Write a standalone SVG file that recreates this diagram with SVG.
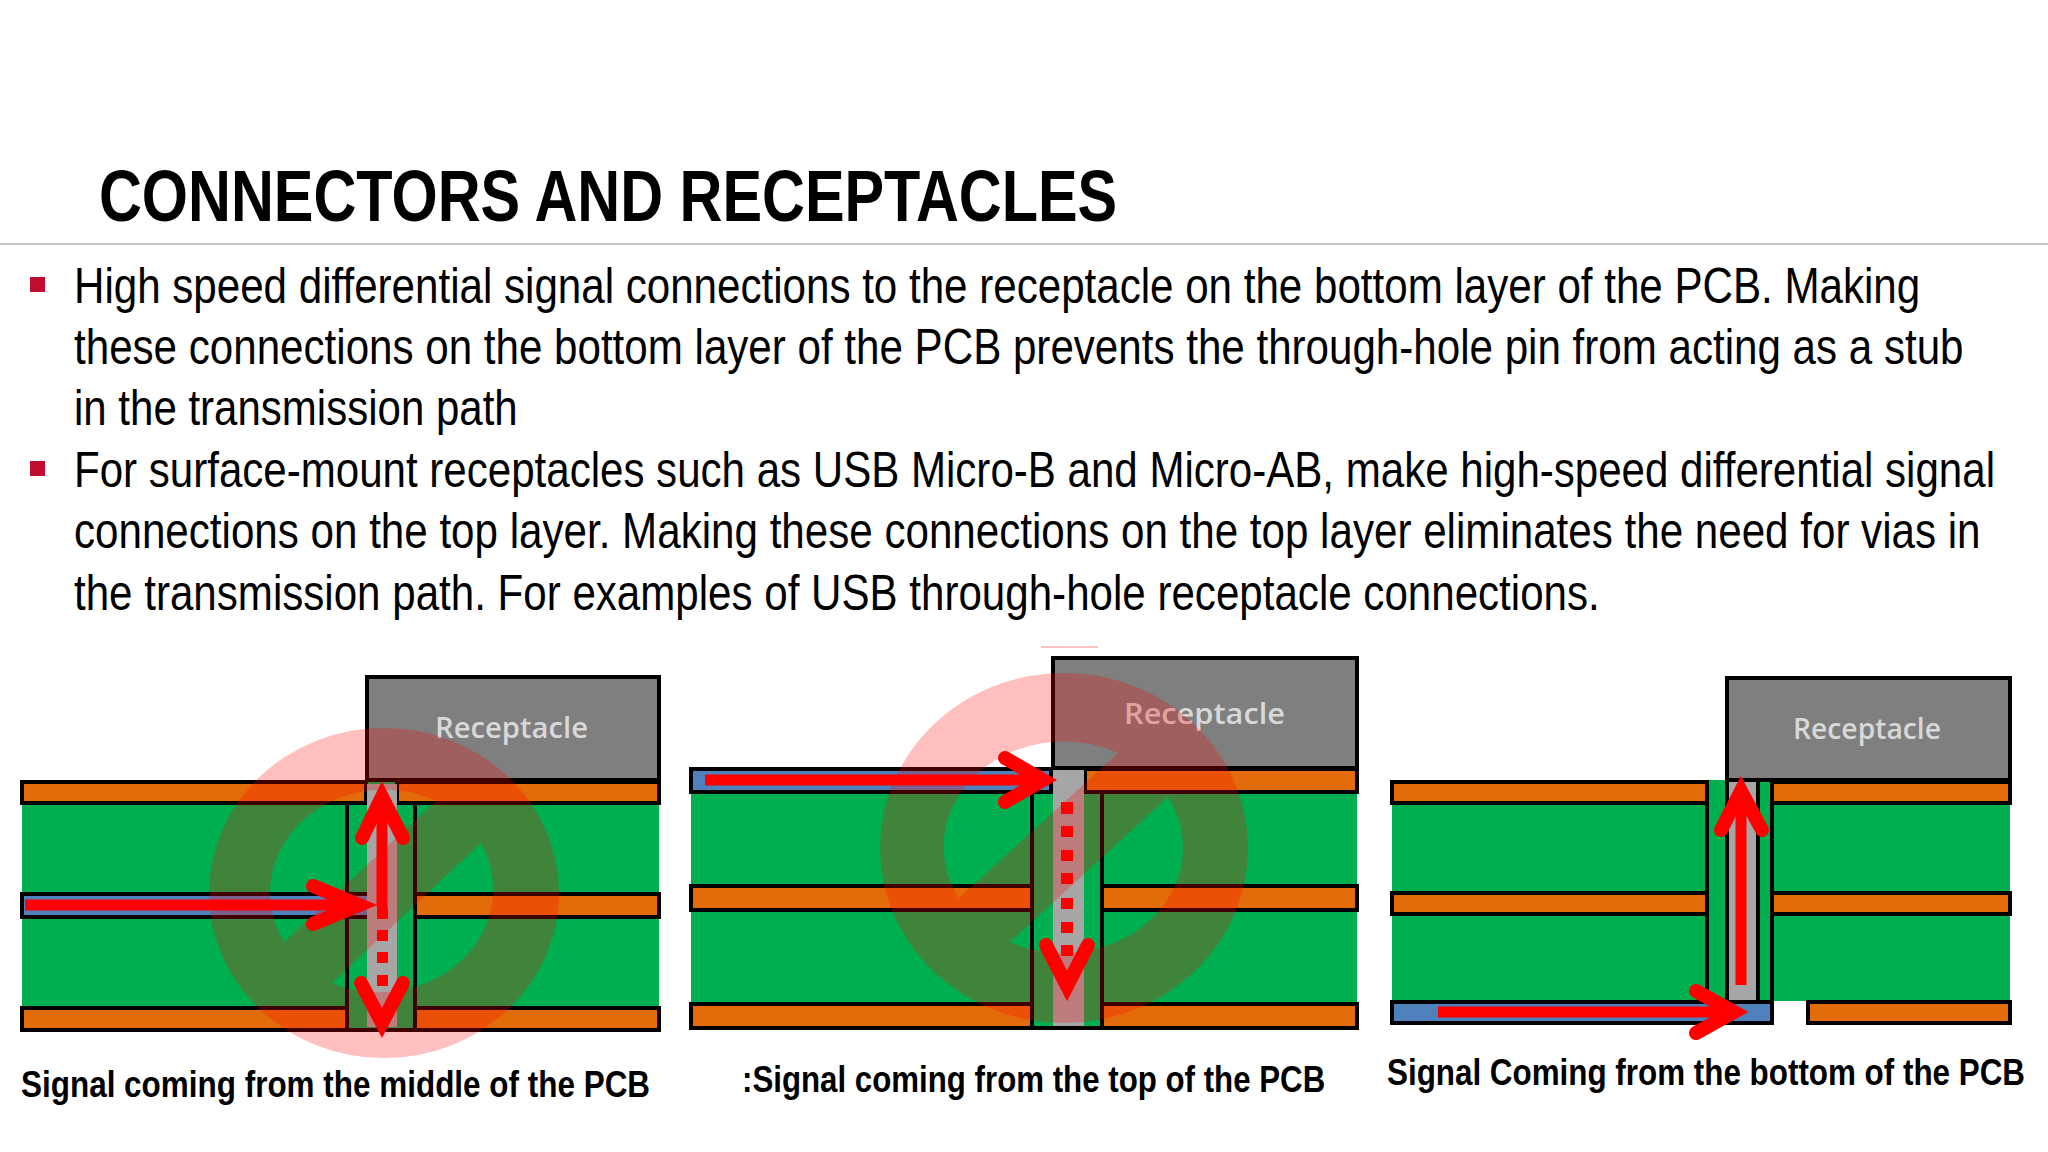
<svg xmlns="http://www.w3.org/2000/svg" width="2048" height="1152" viewBox="0 0 2048 1152">
<style>
.t{font-family:"Liberation Sans",Arial,sans-serif;fill:#000}
.title{font-size:72px;font-weight:700}
.body{font-size:50px}
.cap{font-size:37px;font-weight:700}
.cap3{font-size:33px;font-weight:700}
.rec{font-family:"Open Sans","Noto Sans",sans-serif;font-size:29px;font-weight:600;fill:#d8d8d8}
.bul{fill:#c00d2d}
.g{fill:#00b050}
.o{fill:#e36c0a;stroke:#000;stroke-width:4}
.b{fill:#4f81bd;stroke:#000;stroke-width:4}
.bx{fill:#7f7f7f;stroke:#000;stroke-width:4}
.pin{fill:#a6a6a6}
.ln{stroke:#000;stroke-width:4;fill:none}
.no{fill:#f00;fill-opacity:.25;fill-rule:evenodd}
.a{fill:none;stroke:#f00;stroke-width:11}
.h{fill:none;stroke:#f00;stroke-width:14;stroke-linecap:round;stroke-linejoin:miter;stroke-miterlimit:6}
.d{fill:#f00}
</style>
<rect width="2048" height="1152" fill="#fff"/>
<g id="header">
<text class="t title" transform="translate(99 221) scale(.88 1)" textLength="1157" lengthAdjust="spacingAndGlyphs">CONNECTORS AND RECEPTACLES</text>
<rect x="0" y="243" width="2048" height="2" fill="#c8c8c8"/>
</g>
<g id="bullets">
<rect class="bul" x="30" y="277" width="15" height="15"/>
<rect class="bul" x="30" y="461" width="15" height="15"/>
<text class="t body" transform="translate(74 303) scale(.85 1)" textLength="2172" lengthAdjust="spacingAndGlyphs">High speed differential signal connections to the receptacle on the bottom layer of the PCB. Making</text>
<text class="t body" transform="translate(74 364) scale(.85 1)" textLength="2223" lengthAdjust="spacingAndGlyphs">these connections on the bottom layer of the PCB prevents the through-hole pin from acting as a stub</text>
<text class="t body" transform="translate(74 425) scale(.85 1)" textLength="522" lengthAdjust="spacingAndGlyphs">in the transmission path</text>
<text class="t body" transform="translate(74 487) scale(.85 1)" textLength="2260" lengthAdjust="spacingAndGlyphs">For surface-mount receptacles such as USB Micro-B and Micro-AB, make high-speed differential signal</text>
<text class="t body" transform="translate(74 548) scale(.85 1)" textLength="2243" lengthAdjust="spacingAndGlyphs">connections on the top layer. Making these connections on the top layer eliminates the need for vias in</text>
<text class="t body" transform="translate(74 610) scale(.85 1)" textLength="1795" lengthAdjust="spacingAndGlyphs">the transmission path. For examples of USB through-hole receptacle connections.</text>
</g>
<g id="panel-middle">
<rect class="g" x="22" y="780" width="637" height="250"/>
<rect class="o" x="22" y="782" width="344" height="21"/>
<rect class="o" x="397" y="782" width="262" height="21"/>
<rect class="b" x="22" y="894" width="347" height="23"/>
<rect class="o" x="415" y="894" width="244" height="23"/>
<rect class="o" x="22" y="1008" width="325" height="22"/>
<rect class="o" x="415" y="1008" width="244" height="22"/>
<path class="ln" d="M347 803V1030M415 803V1030M347 1030H415"/>
<rect class="pin" x="367" y="784" width="30" height="243"/>
<rect class="bx" x="367" y="677" width="292" height="103"/>
<text class="rec" x="435" y="738" textLength="153" lengthAdjust="spacingAndGlyphs">Receptacle</text>
<path class="no" d="M209 893A175 165 0 1 1 559 893A175 165 0 1 1 209 893ZM284 942A114 103 0 0 1 436 801ZM481 843A114 103 0 0 1 332 983Z"/>
<text class="t cap" transform="translate(21 1097) scale(.9 1)" textLength="699" lengthAdjust="spacingAndGlyphs">Signal coming from the middle of the PCB</text>
</g>
<g id="panel-top">
<rect x="1041" y="646" width="57" height="2" fill="#ffc0c0"/>
<rect class="g" x="691" y="768" width="666" height="260"/>
<rect class="b" x="691" y="769" width="360" height="23"/>
<rect class="o" x="1085" y="769" width="272" height="23"/>
<rect class="o" x="691" y="886" width="341" height="24"/>
<rect class="o" x="1102" y="886" width="255" height="24"/>
<rect class="o" x="691" y="1004" width="341" height="24"/>
<rect class="o" x="1102" y="1004" width="255" height="24"/>
<path class="ln" d="M1032 792V1028M1102 792V1028M1032 1028H1102"/>
<rect class="pin" x="1053" y="769" width="31" height="257"/>
<rect class="bx" x="1053" y="658" width="304" height="110"/>
<text class="rec" x="1124" y="724" textLength="161" lengthAdjust="spacingAndGlyphs">Receptacle</text>
<path class="no" d="M880 848A184 175 0 1 1 1248 848A184 175 0 1 1 880 848ZM959 898A120 105 0 0 1 1118 753ZM1168 797A120 105 0 0 1 1010 942Z"/>
<text class="t cap" transform="translate(742 1092) scale(.9 1)" textLength="648" lengthAdjust="spacingAndGlyphs">:Signal coming from the top of the PCB</text>
</g>
<g id="panel-bottom">
<rect class="g" x="1392" y="780" width="618" height="221"/>
<rect class="o" x="1392" y="782" width="315" height="21"/>
<rect class="o" x="1772" y="782" width="238" height="21"/>
<rect class="o" x="1392" y="893" width="315" height="21"/>
<rect class="o" x="1772" y="893" width="238" height="21"/>
<rect class="b" x="1392" y="1002" width="380" height="21"/>
<rect class="o" x="1808" y="1002" width="202" height="21"/>
<path class="ln" d="M1707 780V1002M1772 780V1002M1727 780V1002M1758 780V1002"/>
<rect class="pin" x="1729" y="782" width="27" height="218"/>
<rect class="bx" x="1727" y="678" width="283" height="102"/>
<text class="rec" x="1793" y="739" textLength="148" lengthAdjust="spacingAndGlyphs">Receptacle</text>
<text class="t cap3" transform="translate(1387 1085) scale(1 1.12)" textLength="638" lengthAdjust="spacingAndGlyphs">Signal Coming from the bottom of the PCB</text>
</g>
<g id="connectors">
<path class="a" d="M25 905H355"/>
<path class="h" d="M313 886L359 905L313 924"/>
<path class="a" d="M382 907V800"/>
<path class="h" d="M362 838L382 797L403 838"/>
<path class="d" d="M377 907h11v12h-11zM377 930h11v11h-11zM377 952h11v11h-11zM377 975h11v11h-11z"/>
<path class="h" d="M361 983L382 1023L403 983"/>
<path class="a" d="M705 780H1040"/>
<path class="h" d="M1005 758L1043 780L1005 802"/>
<path class="d" d="M1061 802h12v12h-12zM1061 826h12v11h-12zM1061 850h12v11h-12zM1061 873h12v11h-12zM1061 898h12v11h-12zM1061 922h12v11h-12zM1061 945h12v11h-12z"/>
<path class="h" d="M1046 945L1067 986L1088 945"/>
<path class="a" d="M1741 985V795"/>
<path class="h" d="M1721 830L1741 791L1762 830"/>
<path class="a" d="M1438 1012H1730"/>
<path class="h" d="M1696 991L1734 1012L1696 1033"/>
</g>
</svg>
